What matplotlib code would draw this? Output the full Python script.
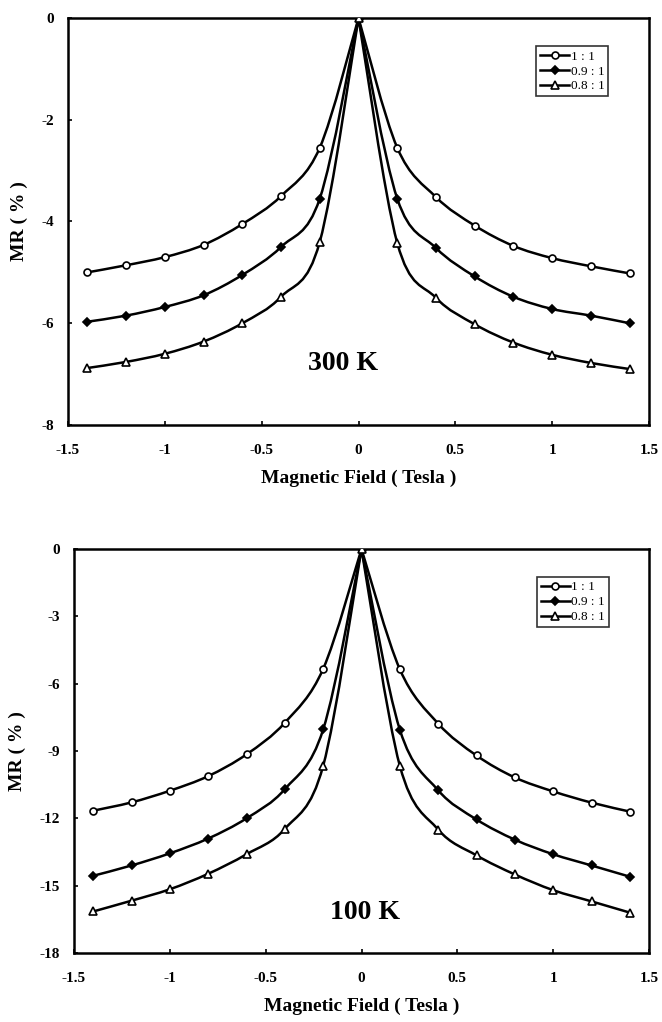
import matplotlib
matplotlib.use("Agg")
import matplotlib.pyplot as plt
from matplotlib.path import Path
from matplotlib.patches import PathPatch
import numpy as np

plt.rcParams['font.family'] = ['Liberation Serif', 'DejaVu Serif']
plt.rcParams['font.weight'] = 'bold'

field = [-1.4, -1.2, -1.0, -0.8, -0.6, -0.4, -0.2, 0.0, 0.2, 0.4, 0.6, 0.8, 1.0, 1.2, 1.4]
labels = ["1 : 1", "0.9 : 1", "0.8 : 1"]

mr_300_11 = [-5.00, -4.86, -4.70, -4.46, -4.05, -3.50, -2.55, 0.0, -2.55, -3.52, -4.08, -4.48, -4.72, -4.88, -5.02]
mr_300_09 = [-5.97, -5.85, -5.68, -5.45, -5.05, -4.50, -3.55, 0.0, -3.55, -4.52, -5.08, -5.48, -5.72, -5.85, -6.00]
mr_300_08 = [-6.88, -6.76, -6.60, -6.36, -6.00, -5.48, -4.40, 0.0, -4.42, -5.50, -6.02, -6.38, -6.62, -6.78, -6.90]

mr_100_11 = [-11.66, -11.29, -10.77, -10.12, -9.15, -7.74, -5.34, 0.0, -5.36, -7.78, -9.20, -10.18, -10.80, -11.30, -11.70]
mr_100_09 = [-14.56, -14.10, -13.56, -12.90, -12.00, -10.70, -8.04, 0.0, -8.05, -10.75, -12.05, -12.95, -13.60, -14.10, -14.60]
mr_100_08 = [-16.15, -15.67, -15.16, -14.47, -13.60, -12.47, -9.66, 0.0, -9.66, -12.50, -13.65, -14.50, -15.20, -15.70, -16.20]

markers = ['o', 'D', '^']
facecolors = ['white', 'black', 'white']
msizes = [5, 4.5, 5.5]


def bezier_through(xs, ys):
    """Cubic Bezier vertices/codes of a smoothed line through the given points."""
    xs = np.asarray(xs, float)
    ys = np.asarray(ys, float)
    n = len(xs)
    verts = [(xs[0], ys[0])]
    codes = [Path.MOVETO]
    for i in range(n - 1):
        x0, y0 = (xs[i - 1], ys[i - 1]) if i > 0 else (xs[i], ys[i])
        x1, y1 = xs[i], ys[i]
        x2, y2 = xs[i + 1], ys[i + 1]
        x3, y3 = (xs[i + 2], ys[i + 2]) if i + 2 < n else (x2, y2)
        c1 = (x1 + (x2 - x0) / 6.0, y1 + (y2 - y0) / 6.0)
        c2 = (x2 - (x3 - x1) / 6.0, y2 - (y3 - y1) / 6.0)
        verts += [c1, c2, (x2, y2)]
        codes += [Path.CURVE4] * 3
    return verts, codes


def smooth_line(ax, xs, ys):
    # the curve has a sharp cusp at zero field: smooth each branch separately
    k = int(np.argmin(np.abs(np.asarray(xs))))
    v1, c1 = bezier_through(xs[:k + 1], ys[:k + 1])
    v2, c2 = bezier_through(xs[k:], ys[k:])
    path = Path(v1 + v2, c1 + c2)
    ax.add_patch(PathPatch(path, facecolor='none', edgecolor='black', lw=1.8,
                           transform=ax.transData, zorder=2, capstyle='round',
                           joinstyle='miter'))


def panel(ax, series, ymin, ystep, temp_text, text_xy):
    for s, m, fc, ms, lab in zip(series, markers, facecolors, msizes, labels):
        smooth_line(ax, field, s)
        ax.plot(field, s, linestyle='none', marker=m, markersize=ms,
                markerfacecolor=fc, markeredgecolor='black', markeredgewidth=1.2, zorder=3)
        ax.plot([], [], color='black', lw=1.8, marker=m, markersize=ms,
                markerfacecolor=fc, markeredgecolor='black', markeredgewidth=1.2, label=lab)
    ax.set_xlim(-1.5, 1.5)
    ax.set_ylim(ymin, 0)
    ax.set_xticks(np.arange(-1.5, 1.51, 0.5))
    ax.set_xticklabels(['-1.5', '-1', '-0.5', '0', '0.5', '1', '1.5'])
    yt = np.arange(ymin, 0.01, ystep)
    ax.set_yticks(yt)
    ax.set_yticklabels([f"{int(v)}" for v in yt])
    ax.tick_params(axis='both', labelsize=11, length=3, width=1.2, direction='in')
    ax.tick_params(axis='x', pad=14)
    ax.tick_params(axis='y', pad=10)
    for lbl in ax.get_xticklabels() + ax.get_yticklabels():
        lbl.set_fontweight('bold')
    for sp in ax.spines.values():
        sp.set_linewidth(1.8)
    ax.set_xlabel('Magnetic Field ( Tesla )', fontsize=14, fontweight='bold', labelpad=9)
    ax.set_ylabel('MR ( % )', fontsize=14, fontweight='bold', labelpad=10)
    ax.text(text_xy[0], text_xy[1], temp_text, fontsize=20, fontweight='bold',
            ha='center', va='center')
    leg = ax.legend(loc='upper right', bbox_to_anchor=(0.93, 0.93), fontsize=9.5,
                    frameon=True, fancybox=False, edgecolor='black', handlelength=2.2,
                    handletextpad=0.1, borderpad=0.3, labelspacing=0.2, borderaxespad=0)
    leg.get_frame().set_linewidth(1.2)
    for t in leg.get_texts():
        t.set_fontweight('normal')


fig = plt.figure(figsize=(6.62, 10.22), dpi=100)
ax1 = fig.add_axes([68 / 662, 1 - 425 / 1022, (649 - 68) / 662, (425 - 18) / 1022])
ax2 = fig.add_axes([74 / 662, 1 - 953 / 1022, (649 - 74) / 662, (953 - 549) / 1022])

panel(ax1, [mr_300_11, mr_300_09, mr_300_08], -8, 2, '300 K', (-0.08, -6.8))
panel(ax2, [mr_100_11, mr_100_09, mr_100_08], -18, 3, '100 K', (0.02, -16.2))

fig.savefig('out.png', dpi=100)
